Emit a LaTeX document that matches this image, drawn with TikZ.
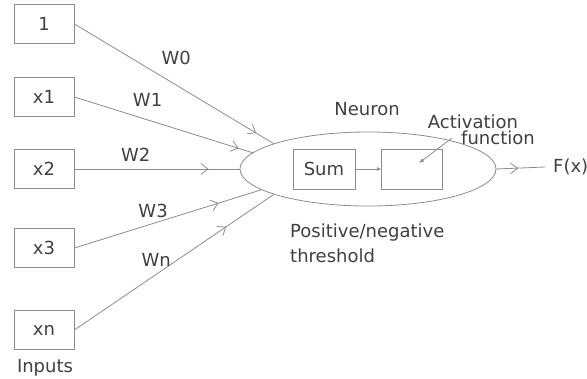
\documentclass[tikz,border=0pt]{standalone}
\usepackage{fontspec}
\setmainfont{DejaVu Sans}
\usetikzlibrary{arrows.meta,shapes.geometric,positioning,decorations.markings}
\definecolor{wiregray}{gray}{0.55}
\definecolor{inkgray}{gray}{0.25}
\tikzset{>={Straight Barb[length=7pt,width=11pt]}}
\tikzset{wire/.style={draw, color=wiregray, line width=0.8pt}}
\tikzset{box/.style={draw=wiregray, line width=0.8pt, minimum width=60pt,
    minimum height=39pt, inner sep=0pt, text=inkgray}}
\tikzset{lbl/.style={inner sep=1pt, text=inkgray}}
\tikzset{midarrow/.style={postaction={decorate}, decoration={markings,
    mark=at position #1 with {\arrow{>}}}}}

\begin{document}
\begin{tikzpicture}[x=1pt, y=-1pt, font=\fontsize{18}{21}\selectfont]
    \useasboundingbox (0,0) rectangle (587,378);

    % inputs
    \foreach \n/\t/\y in {one/1/24, xa/x1/97, xb/x2/169, xc/x3/248, xd/xn/330}
    \node[box] (\n) at (44,\y) {\t};
    \node[lbl] (inputs) at (45,368) {Inputs};

    % neuron
    \node[ellipse, wire, minimum width=256pt, minimum height=74pt,
      outer sep=0pt] (neuron) at (368,169) {};
    \node[box, minimum width=62pt, minimum height=40pt] (sum) at (324,169) {Sum};
    \node[box, minimum width=61pt, minimum height=40pt] (act) at (412,169) {};
    \coordinate (dot) at (419,163);
    \node[lbl] (neuronlbl) at (367,109) {Neuron};
    \node[lbl] (act1) at (473,122) {Activation};
    \node[lbl] (act2) at (498,138) {function};
    \node[lbl, anchor=west, align=left, font=\fontsize{18}{25}\selectfont]
      (thresh) at (289,243) {Positive/negative\\threshold};
    \node[lbl, anchor=west] (fx) at (552,167) {F(x)};

    \path (one.east) edge[wire, midarrow=.91] node[lbl, above=19pt, pos=.51] {W0} (neuron.165);
    \path (xa.east) edge[wire, midarrow=.92] node[lbl, above=12pt, pos=.41] {W1} (neuron.172.5);
    \path (xb.east) edge[wire, midarrow=.81] node[lbl, above=6pt, pos=.37] {W2} (neuron.180);
    \path (xc.east) edge[wire, midarrow=.77] node[lbl, above=4pt, pos=.42] {W3} (neuron.191);
    \path (xd.east) edge[wire, midarrow=.76] node[lbl, above=6pt, pos=.41] {Wn} (neuron.195.6);

    \draw[wire, -{Latex[length=4pt,width=4pt]}] (sum) -- (act);
    \draw[wire, -{Latex[length=5pt,width=4pt]}] ([xshift=-8pt]act2.west) -- (dot);
    \draw[wire, midarrow=.45] (neuron.east) -- ([xshift=-7pt]fx.west);
\end{tikzpicture}
\end{document}
